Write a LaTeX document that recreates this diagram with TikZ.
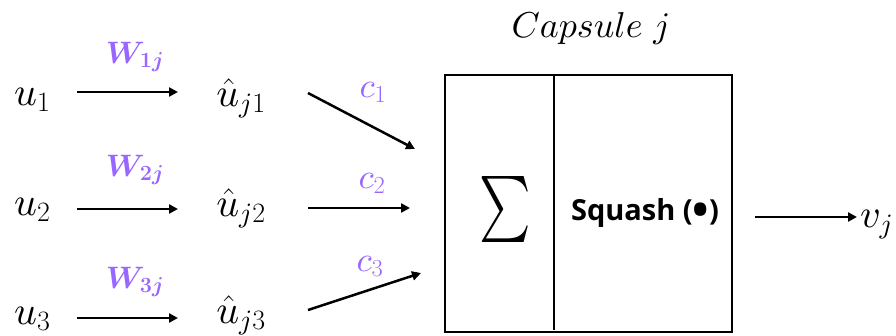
\RequirePackage{fix-cm}
\documentclass[tikz,border=0pt]{standalone}
\usepackage{amsmath,bm}
\usepackage{graphicx}
\usepackage{fontspec}
\DeclareFontShape{OML}{cmm}{m}{it}{<->cmmi10}{}
\DeclareFontShape{OML}{cmm}{b}{it}{<->cmmib10}{}
\DeclareFontShape{OMS}{cmsy}{m}{n}{<->cmsy10}{}
\DeclareFontShape{OMS}{cmsy}{b}{n}{<->cmbsy10}{}
\DeclareFontShape{OMX}{cmex}{m}{n}{<->cmex10}{}
\newfontfamily\sqfont{Open Sans}
\usetikzlibrary{arrows.meta}
\definecolor{wpurple}{RGB}{153,102,255}
\begin{document}
\begin{tikzpicture}[x=1pt,y=-1pt,
  mathl/.style={inner sep=0, anchor=base, font=\fontsize{40}{44}\selectfont},
  wlab/.style={inner sep=0, anchor=base, text=wpurple, font=\fontsize{31}{34}\selectfont},
  clab/.style={inner sep=0, anchor=base, text=wpurple, font=\fontsize{35}{38}\selectfont},
  arr/.style={line width=2.5pt, -{Triangle[length=9pt,width=9pt]}},
  capbox/.style={draw, line width=2.6pt, inner sep=0, minimum width=287pt, minimum height=257pt}]
\useasboundingbox (0,0) rectangle (896,335);

% inputs
\node[mathl, anchor=base west] (u1) at (14,105) {$u_1$};
\node[mathl, anchor=base west] (u2) at (14,215) {$u_2$};
\node[mathl, anchor=base west] (u3) at (14,324) {$u_3$};
% predictions
\node[mathl] (h1) at (241,106) {$\hat{u}_{j1}$};
\node[mathl] (h2) at (241,216) {$\hat{u}_{j2}$};
\node[mathl] (h3) at (241,323) {$\hat{u}_{j3}$};
% weights
\node[wlab] (w1) at (135,63) {$\bm{W}_{\bm{1j}}$};
\node[wlab] (w2) at (135,176) {$\bm{W}_{\bm{2j}}$};
\node[wlab] (w3) at (135,288) {$\bm{W}_{\bm{3j}}$};
% coupling coefficients
\node[clab] (c1) at (373,97) {$c_1$};
\node[clab] (c2) at (372,188) {$c_2$};
\node[clab] (c3) at (370,271) {$c_3$};

% capsule
\node[capbox] (box) at (588.5,203.5) {};
\path (box.north west) ++(110,0) coordinate (dtop);
\path (box.south west) ++(110,-3) coordinate (dbot);
\draw[line width=2.2pt] (dtop) -- (dbot);
\node[inner sep=0] (sig) at (505,209) {\scalebox{0.74}[1]{\fontsize{66}{70}\selectfont$\sum$}};
\node[inner sep=0, anchor=base, font=\sqfont\bfseries\fontsize{29}{32}\selectfont] (sq) at (645,220) {Squash (\raisebox{-0.19em}{\scalebox{1.5}{•}})};
\node[inner sep=0, anchor=base, font=\fontsize{36}{40}\selectfont] (cap) at (591,37) {$Capsule\ j$};
\node[mathl, anchor=base west] (vj) at (860,227) {$v_j$};

% arrow end points
\coordinate (a1s) at (77,92);  \coordinate (a1e) at (178,92);
\coordinate (a2s) at (77,209); \coordinate (a2e) at (178,209);
\coordinate (a3s) at (77,318); \coordinate (a3e) at (178,318);
\coordinate (b1s) at (308,93);  \coordinate (b1e) at (415,149);
\coordinate (b2s) at (308,208); \coordinate (b2e) at (410,208);
\coordinate (b3s) at (308,310); \coordinate (b3e) at (421,273);
\coordinate (os) at (755,217);  \coordinate (oe) at (857,217);

\draw[arr] (a1s) -- (a1e);
\draw[arr] (a2s) -- (a2e);
\draw[arr] (a3s) -- (a3e);
\draw[arr] (b1s) -- (b1e);
\draw[arr] (b2s) -- (b2e);
\draw[arr] (b3s) -- (b3e);
\draw[arr] (os) -- (oe);
\end{tikzpicture}
\end{document}
